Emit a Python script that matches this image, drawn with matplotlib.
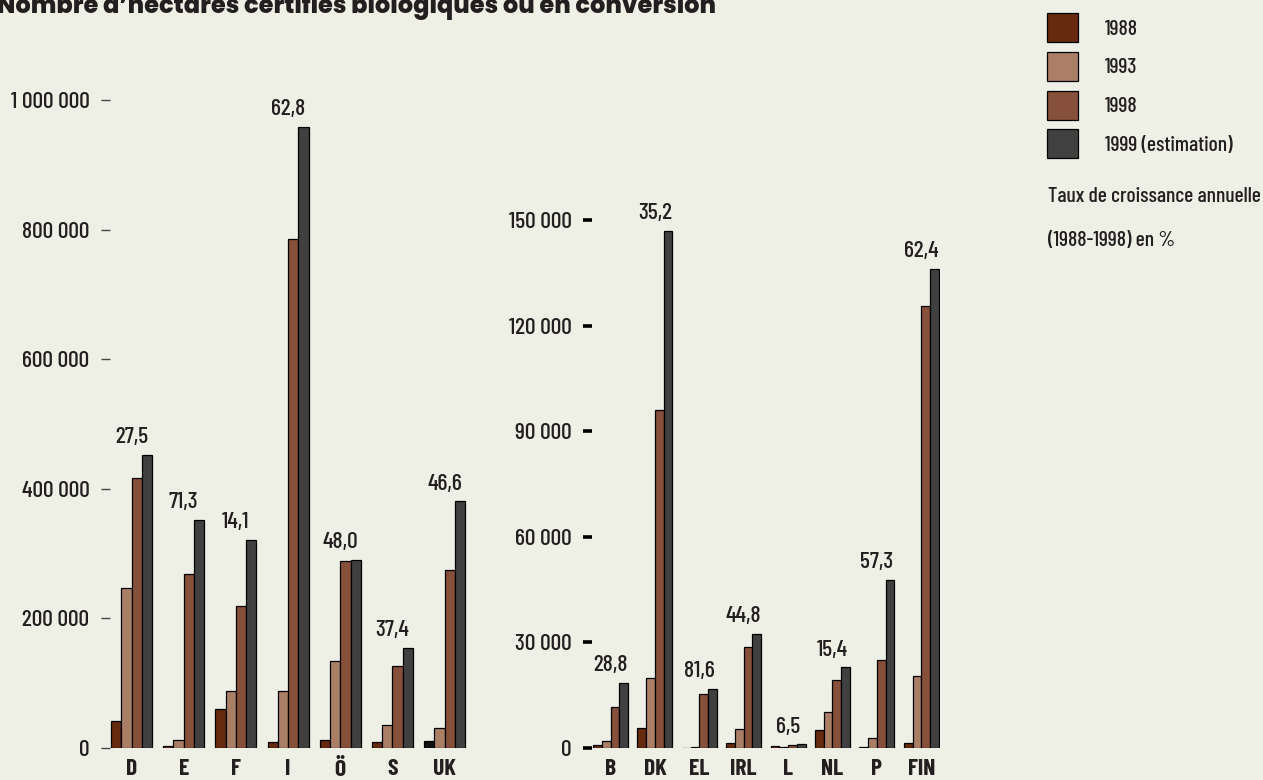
import matplotlib
matplotlib.use("Agg")
import matplotlib.pyplot as plt
import numpy as np

# ── Données ────────────────────────────────────────────────────────────────────
years = ["1988", "1993", "1998", "1999 (estimation)"]

left_countries = ["D", "E", "F", "I", "Ö", "S", "UK"]
left_1988 = [42000, 2600, 60000, 8900, 11900, 8600, 11000]
left_1993 = [246700, 12000, 87600, 88700, 135000, 36000, 31000]
left_1998 = [416000, 269000, 219600, 785000, 288000, 126600, 275000]
left_1999 = [452700, 352500, 320700, 959000, 290000, 155000, 380500]
left_rates = ["27,5", "71,3", "14,1", "62,8", "48,0", "37,4", "46,6"]
left_ticks = [0, 200000, 400000, 600000, 800000, 1000000]

right_countries = ["B", "DK", "EL", "IRL", "L", "NL", "P", "FIN"]
right_1988 = [800, 5700, 100, 1300, 500, 5100, 400, 1400]
right_1993 = [2000, 19900, 400, 5300, 400, 10300, 2900, 20400]
right_1998 = [11700, 96100, 15300, 28600, 800, 19200, 24900, 125700]
right_1999 = [18400, 146800, 16900, 32400, 1000, 22900, 47800, 136200]
right_rates = ["28,8", "35,2", "81,6", "44,8", "6,5", "15,4", "57,3", "62,4"]
right_ticks = [0, 30000, 60000, 90000, 120000, 150000]

# ── Style ──────────────────────────────────────────────────────────────────────
BG = "#eff0e5"
INK = "#231f20"
COLORS = ["#662a0e", "#ab7f66", "#87503a", "#404040"]
NARROW = ["Barlow Condensed", "Archivo Narrow", "Asap Condensed", "Liberation Sans", "DejaVu Sans"]
TITLE_FONT = ["Poppins", "DejaVu Sans"]
FS = 17
FS_TXT = 15.5
BAR_W = 0.197

plt.rcParams["font.family"] = NARROW
plt.rcParams["font.weight"] = "medium"


def fmt(v):
    return f"{v:,}".replace(",", " ")


def draw_panel(ax, countries, series, rates, ticks, ymax, tick_w, tick_col):
    x = np.arange(len(countries))
    handles = []
    for k, vals in enumerate(series):
        off = (k - 1.5) * BAR_W
        bars = ax.bar(x + off, vals, BAR_W, color=COLORS[k],
                      edgecolor="black", linewidth=0.9, label=years[k])
        handles.append(bars)
    maxes = np.max(np.array(series), axis=0)
    for i, r in enumerate(rates):
        ax.annotate(r, xy=(x[i], maxes[i]), xytext=(0, 8.5), textcoords="offset points",
                    ha="center", va="baseline", fontsize=FS, color=INK)
    ax.set_xlim(-0.42, len(countries) - 1 + 0.42)
    ax.set_ylim(0, ymax)
    ax.set_yticks(ticks)
    ax.set_yticklabels([fmt(t) for t in ticks], fontsize=FS, color=INK)
    ax.set_xticks(x)
    ax.set_xticklabels(countries, fontsize=FS, fontweight="bold", color=INK)
    ax.tick_params(axis="x", length=0, pad=8)
    ax.tick_params(axis="y", length=6.5, width=tick_w, color=tick_col, pad=8)
    for s in ax.spines.values():
        s.set_visible(False)
    ax.set_facecolor(BG)
    return handles


W, H = 1263, 780
fig = plt.figure(figsize=(W / 100, H / 100), dpi=100, facecolor=BG)

# axes gauche : 0 à 748 px, 1 000 000 à 100 px
ax1 = fig.add_axes([109.6 / W, 32 / H, 357 / W, 648 / H])
handles = draw_panel(ax1, left_countries, [left_1988, left_1993, left_1998, left_1999],
                     left_rates, left_ticks, 1000000, 1.0, "#444444")
# la barre 1988 du Royaume-Uni est noire dans l'original
handles[0][6].set_facecolor("#111111")

# axes droite : 150 000 à 220 px
ax2 = fig.add_axes([591.9 / W, 32 / H, 348 / W, 528 / H])
draw_panel(ax2, right_countries, [right_1988, right_1993, right_1998, right_1999],
           right_rates, right_ticks, 150000, 2.6, "black")

# titre (coupé en haut dans l'original) — taille ajustée pour ~718 px de large
title = fig.text(-3 / W, 1 - 13 / H, "Nombre d’hectares certifiés biologiques ou en conversion",
                 fontsize=15, fontweight="heavy", family=TITLE_FONT, color=INK,
                 va="baseline", ha="left")
renderer = fig.canvas.get_renderer()
tw = title.get_window_extent(renderer).width
title.set_fontsize(15 * 718 / tw)

# légende
leg = fig.legend(handles=handles, labels=years, loc="upper left",
                 bbox_to_anchor=(1047 / W, 1 - 13 / H), frameon=False,
                 fontsize=FS_TXT, handlelength=1.45, handleheight=1.7,
                 labelspacing=0.45, handletextpad=1.25, borderpad=0, borderaxespad=0)
for t in leg.get_texts():
    t.set_color(INK)

fig.text(1048 / W, 1 - 196 / H, "Taux de croissance annuelle", fontsize=FS_TXT,
         color=INK, va="center", ha="left")
fig.text(1048 / W, 1 - 241 / H, "(1988-1998) en %", fontsize=FS_TXT,
         color=INK, va="center", ha="left")

fig.savefig("out.png", dpi=100, facecolor=BG)
